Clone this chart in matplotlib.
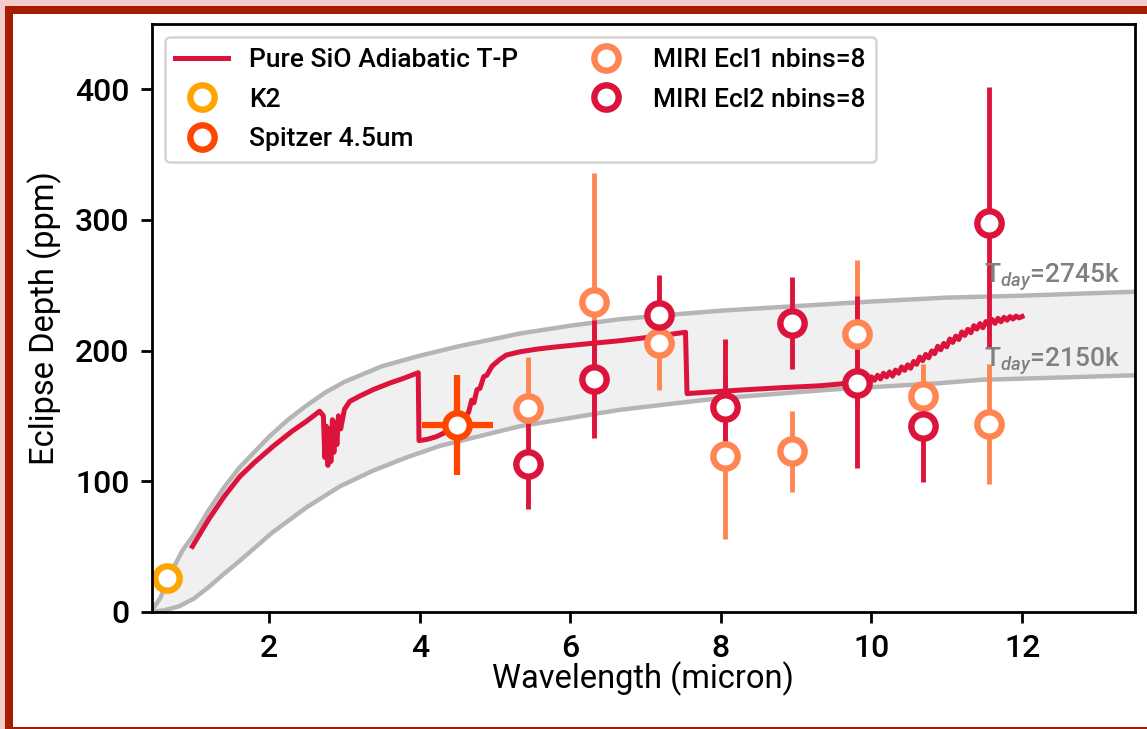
import matplotlib
matplotlib.use("Agg")
import matplotlib.pyplot as plt
from matplotlib.lines import Line2D
from matplotlib.patches import Rectangle

plt.rcParams['font.family'] = ['Roboto', 'DejaVu Sans']
plt.rcParams['font.weight'] = 'medium'
plt.rcParams['mathtext.fontset'] = 'custom'
plt.rcParams['mathtext.rm'] = 'Roboto:medium'
plt.rcParams['mathtext.it'] = 'Roboto:italic'

# ---------------- data ----------------
# blackbody envelopes
bb_hot_wl = [0.44, 0.55, 0.64, 0.75, 0.85, 1.0, 1.2, 1.4, 1.6, 1.8, 2.0, 2.25, 2.5, 2.75,
             3.0, 3.5, 4.0, 4.5, 5.33, 6.0, 6.66, 7.46, 8.0, 9.0, 10.0, 11.0, 12.0, 13.5]
bb_hot_depth = [1, 10, 22, 36, 47, 59, 78, 95, 110, 122, 134, 147, 158, 168,
                176, 188, 196, 203, 213, 219, 224, 228, 230.5, 234, 237.5, 240.5, 242, 245]
bb_cold_wl = [0.44, 0.6, 0.8, 1.0, 1.2, 1.4, 1.61, 2.05, 2.5, 2.94, 3.38, 3.82, 4.27, 5.33,
              6.66, 7.46, 8.0, 9.45, 10.91, 11.44, 13.5]
bb_cold_depth = [0, 1, 4, 10, 19, 29, 39, 61, 80, 96, 108, 118, 127, 142,
                 154.6, 160, 163.5, 170, 175, 177.5, 181]

# Pure SiO adiabatic T-P model
model_wl = [0.98, 1.2, 1.4, 1.61, 1.8, 2.05, 2.3, 2.5, 2.67, 2.72, 2.74, 2.76, 2.78, 2.80,
            2.82, 2.84, 2.86, 2.88, 2.90, 2.92, 2.95, 3.0, 3.07, 3.2, 3.38, 3.6, 3.8, 3.98,
            3.99, 4.1, 4.22, 4.4, 4.5, 4.58, 4.62, 4.65, 4.69, 4.72, 4.76, 4.8, 4.85, 4.89,
            4.96, 5.06, 5.15, 5.33, 5.55, 5.77, 6.2, 6.66, 7.1, 7.53, 7.55, 7.8, 8.34, 8.8,
            9.32, 9.7, 9.9,
            10.00, 10.04, 10.08, 10.12, 10.16, 10.20, 10.24, 10.28, 10.32, 10.36, 10.40,
            10.44, 10.48, 10.52, 10.56, 10.60, 10.64, 10.68, 10.72, 10.76, 10.80, 10.84,
            10.88, 10.92, 10.96, 11.00, 11.04, 11.08, 11.12, 11.16, 11.20, 11.24, 11.28,
            11.32, 11.36, 11.40, 11.44, 11.48, 11.52, 11.56, 11.60, 11.64, 11.68, 11.72,
            11.76, 11.80, 11.84, 11.88, 11.92, 11.96, 12.00]
model_depth = [50, 71, 88, 103.5, 114, 126.5, 138, 146, 153.5, 150, 118, 142, 112, 140,
               115, 147, 122, 145, 128, 150, 140, 155, 161, 165, 170, 175, 179, 183,
               131, 132, 134, 139, 140, 143, 150, 153, 162, 160, 170, 171, 180, 181,
               188, 193, 196.5, 199, 201, 202.5, 205, 207.5, 210.5, 214, 167, 168, 170, 171.5,
               173, 175, 177,
               179.8, 177.2, 181.0, 178.2, 182.6, 179.8, 183.6, 180.4, 185.0, 182.6, 187.4,
               184.8, 189.0, 186.4, 191.6, 189.4, 195.0, 192.2, 197.0, 194.4, 199.6, 197.6,
               203.2, 200.6, 205.4, 202.8, 208.8, 206.2, 211.0, 208.4, 214.2, 211.6, 216.2,
               213.6, 219.0, 216.4, 220.6, 217.4, 222.2, 219.6, 223.8, 220.8, 224.6, 222.0,
               225.4, 223.2, 226.0, 224.1, 226.3, 225.0, 226.0]

# observations
k2_wl = [0.64]
k2_depth = [26]
k2_err = [4]

spitzer_wl = [4.5]
spitzer_depth = [143]
spitzer_err = [38]
spitzer_xerr = [0.47]

miri_wl = [5.44, 6.31, 7.18, 8.06, 8.94, 9.81, 10.69, 11.56]
ecl1_depth = [156, 237, 206, 119, 123, 213, 165, 144]
ecl1_err = [39, 99, 36, 63, 31, 56, 25, 46]
ecl2_depth = [113, 178, 227, 157, 221, 175, 142, 298]
ecl2_err_lo = [34, 45, 30, 45, 35, 65, 43, 95]
ecl2_err_hi = [34, 45, 31, 52, 35, 67, 30, 104]

labels = ['Pure SiO Adiabatic T-P', 'K2', 'Spitzer 4.5um',
          'MIRI Ecl1 nbins=8', 'MIRI Ecl2 nbins=8']
tday_labels = [r'T$_{day}$=2745k', r'T$_{day}$=2150k']

# ---------------- style ----------------
c_model = '#dc143c'
c_k2 = '#ffa500'
c_spz = '#ff4500'
c_e1 = '#ff8552'
c_e2 = '#dc143c'
c_bb = '#b5b5b5'

fig = plt.figure(figsize=(11.47, 7.29), dpi=100)
fig.patch.set_facecolor('#f3cbcb')
W, H = 1147.0, 729.0
fig.patches.append(Rectangle((5 / W, 0), 1, 1 - 6 / H, transform=fig.transFigure,
                             facecolor='#a61c00', edgecolor='none', zorder=-10))
fig.patches.append(Rectangle((13 / W, 2.5 / H), 1, 1 - 14 / H - 2.5 / H,
                             transform=fig.transFigure,
                             facecolor='white', edgecolor='none', zorder=-9))

ax = fig.add_axes([151.7 / W, 1 - 611.7 / H, (1135 - 151.7) / W, (611.7 - 24) / H])
ax.set_facecolor('white')

# envelope between the two blackbody curves
ax.fill(bb_hot_wl + bb_cold_wl[::-1], bb_hot_depth + bb_cold_depth[::-1],
        color='#f0f0f0', zorder=0.5, lw=0)
ax.plot(bb_hot_wl, bb_hot_depth, color=c_bb, lw=3.2, zorder=1)
ax.plot(bb_cold_wl, bb_cold_depth, color=c_bb, lw=3.2, zorder=1)

ax.plot(model_wl, model_depth, color=c_model, lw=3.6, zorder=1.5)

mk = dict(fmt='o', ms=17.5, mew=4.6, mfc='white', capsize=0)
ax.errorbar(k2_wl, k2_depth, yerr=k2_err, color=c_k2, elinewidth=3.5, **mk)
ax.errorbar(spitzer_wl, spitzer_depth, yerr=spitzer_err, xerr=spitzer_xerr,
            color=c_spz, elinewidth=4.5, **mk)
ax.errorbar(miri_wl, ecl1_depth, yerr=ecl1_err, color=c_e1, elinewidth=3.5, **mk)
ax.errorbar(miri_wl, ecl2_depth, yerr=[ecl2_err_lo, ecl2_err_hi], color=c_e2,
            elinewidth=3.5, **mk)

ax.text(11.49, 251.5, tday_labels[0], color='#808080', fontsize=19, va='baseline', zorder=3)
ax.text(11.49, 187.5, tday_labels[1], color='#808080', fontsize=19, va='baseline', zorder=3)

ax.set_xlim(0.44, 13.5)
ax.set_ylim(0, 450)
ax.set_xticks([2, 4, 6, 8, 10, 12])
ax.set_yticks([0, 100, 200, 300, 400])
ax.tick_params(labelsize=23, length=8, width=2, pad=8)
for s in ax.spines.values():
    s.set_linewidth(2)
ax.set_xlabel('Wavelength (micron)', fontsize=23.5, labelpad=-1)
ax.set_ylabel('Eclipse Depth (ppm)', fontsize=23.5, labelpad=9)

hmk = dict(marker='o', ms=17.5, mew=4.6, mfc='white', lw=0)
handles = [Line2D([], [], color=c_model, lw=3.6),
           Line2D([], [], color=c_k2, **hmk),
           Line2D([], [], color=c_spz, **hmk),
           Line2D([], [], color=c_e1, **hmk),
           Line2D([], [], color=c_e2, **hmk)]
leg = ax.legend(handles, labels, loc='upper left', ncol=2, fontsize=19,
                labelspacing=0.6, borderaxespad=0.5, columnspacing=2.3,
                framealpha=0.85, edgecolor='#cccccc')
leg.get_frame().set_linewidth(1.8)

fig.savefig('out.png', dpi=100, facecolor=fig.get_facecolor())
